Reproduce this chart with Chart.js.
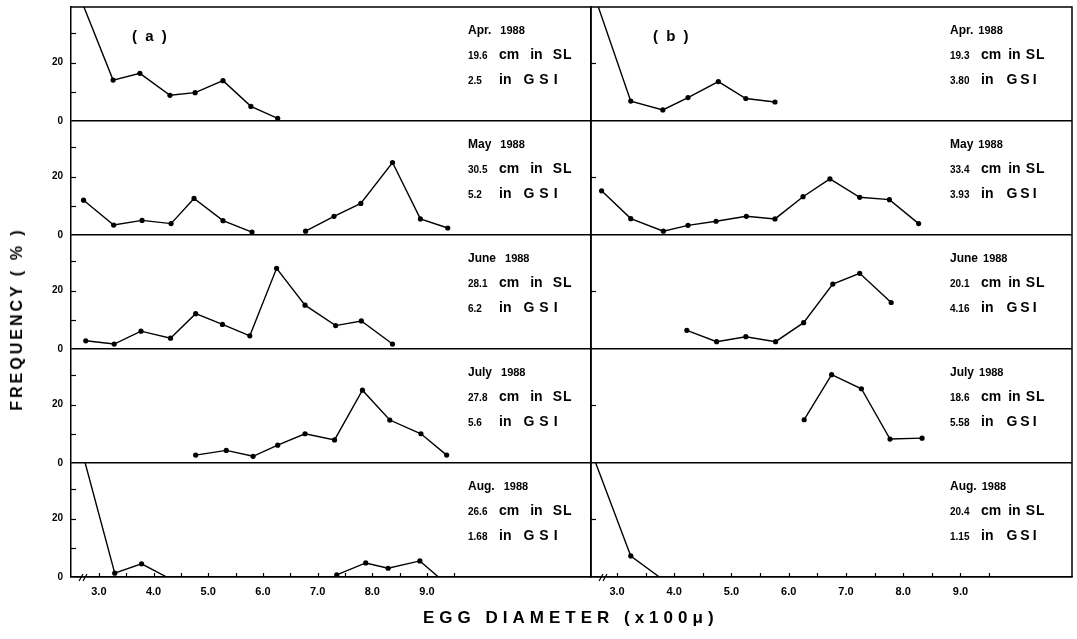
<!DOCTYPE html>
<html>
<head>
<meta charset="utf-8">
<script src="https://cdn.jsdelivr.net/npm/chart.js@4.4.0/dist/chart.umd.min.js"></script>
<style>
body{margin:0;background:#fff;width:1077px;height:639px;position:relative;overflow:hidden;font-family:"Liberation Sans",Arial,sans-serif;color:#000;}
canvas{position:absolute;left:0;top:0;}
.note{position:absolute;line-height:23px;white-space:nowrap;}
.note b{font-size:12px;}
.note .yr{font-size:11px;font-weight:bold;}
.note .num{display:inline-block;width:31px;font-size:10px;font-weight:bold;}
.note .w{font-size:14px;font-weight:bold;}
.lbl{position:absolute;font-weight:bold;white-space:nowrap;}
</style>
</head>
<body>
<canvas id="colA" width="1077" height="639"></canvas>
<canvas id="colB" width="1077" height="639"></canvas>
<div id="notes"></div>
<div class="lbl" style="left:132px;top:27px;font-size:15px;letter-spacing:2px">( a )</div>
<div class="lbl" style="left:653px;top:27px;font-size:15px;letter-spacing:2px">( b )</div>
<div class="lbl" style="font-size:16px;letter-spacing:3px;left:17px;top:319px;transform:translate(-50%,-50%) rotate(-90deg)">FREQUENCY ( % )</div>
<div class="lbl" style="left:423px;top:608px;font-size:17px;letter-spacing:5px">EGG DIAMETER (x100μ)</div>
<script>
// ---------------- eixos ----------------
const xTicks = [3,3.5,4,4.5,5,5.5,6,6.5,7,7.5,8,8.5,9,9.5];
const xLabels = [3,4,5,6,7,8,9];
const yTicksA = [0,10,20,30];
const yTicksB = [0,20];
const yLabels = [0,20];

// ---------------- (a) ----------------
const aprAx = [2.62,3.26,3.75,4.30,4.76,5.27,5.78,6.27];
const aprAy = [44,14.0,16.3,8.8,9.7,13.8,5.0,0.9];
const mayAx = [2.72,3.27,3.79,4.32,4.74,5.27,5.80,6.25,6.78,7.30,7.79,8.37,8.88,9.38];
const mayAy = [11.9,3.4,5.0,3.9,12.5,4.9,1.0,null,1.3,6.4,10.8,24.8,5.5,2.4];
const junAx = [2.76,3.28,3.77,4.31,4.77,5.26,5.76,6.25,6.77,7.33,7.80,8.37];
const junAy = [2.8,1.7,6.1,3.7,12.1,8.4,4.5,27.6,15.0,8.0,9.6,1.7];
const julAx = [4.77,5.33,5.82,6.27,6.77,7.31,7.82,8.32,8.89,9.36];
const julAy = [2.7,4.3,2.3,6.1,10.0,7.9,24.9,14.7,10.0,2.7];
const augAx = [2.62,3.29,3.78,4.24,5.80,7.35,7.88,8.29,8.87,9.21];
const augAy = [48,1.3,4.5,0,null,0.7,4.8,3.0,5.5,0];

// ---------------- (b) ----------------
const aprBx = [2.55,3.24,3.80,4.24,4.77,5.25,5.76];
const aprBy = [46,6.8,3.8,8.0,13.5,7.7,6.5];
const mayBx = [2.73,3.24,3.81,4.24,4.73,5.26,5.76,6.25,6.72,7.24,7.76,8.27];
const mayBy = [15.1,5.6,1.3,3.3,4.7,6.4,5.5,13.1,19.2,12.9,12.1,3.9];
const junBx = [4.22,4.74,5.25,5.77,6.26,6.77,7.24,7.79];
const junBy = [6.4,2.5,4.2,2.5,9.0,22.2,25.9,15.9];
const julBx = [6.27,6.75,7.27,7.77,8.33];
const julBy = [14.8,30.2,25.4,8.2,8.5];
const augBx = [2.55,3.24,3.74];
const augBy = [43,7.2,0];

// ---------------- textos ----------------
const months = ["Apr.","May","June","July","Aug."];
const slA = ["19.6","30.5","28.1","27.8","26.6"];
const gsiA = ["2.5","5.2","6.2","5.6","1.68"];
const slB = ["19.3","33.4","20.1","18.6","20.4"];
const gsiB = ["3.80","3.93","4.16","5.58","1.15"];

const rowIds = ["r0","r1","r2","r3","r4"];

Chart.defaults.font.family = '"Liberation Sans", Arial, sans-serif';
Chart.defaults.color = "#000";

const frame = {
  id:"frame",
  beforeDatasetDraw(chart,args){
    const m=args.meta, ctx=chart.ctx;
    ctx.save(); ctx.beginPath();
    ctx.rect(m.xScale.left, m.yScale.top, m.xScale.width, m.yScale.height+3);
    ctx.clip();
  },
  afterDatasetDraw(chart){ chart.ctx.restore(); },
  afterDraw(chart,args,o){
    const {ctx, chartArea:a, scales} = chart;
    ctx.save(); ctx.strokeStyle="#000"; ctx.lineWidth=1.5;
    ctx.beginPath(); ctx.moveTo(a.left,a.top); ctx.lineTo(a.right,a.top); ctx.lineTo(a.right,a.bottom); ctx.stroke();
    ctx.lineWidth=1.2;
    const xs=scales.x;
    xTicks.forEach(v=>{
      const p=Math.round(xs.getPixelForValue(v))+0.5;
      ctx.beginPath(); ctx.moveTo(p,a.bottom); ctx.lineTo(p,a.bottom-4); ctx.stroke();
    });
    rowIds.forEach(id=>{
      const s=scales[id];
      o.ticks.forEach(v=>{
        if(!v) return;
        const p=Math.round(s.getPixelForValue(v))+0.5;
        ctx.beginPath(); ctx.moveTo(a.left,p); ctx.lineTo(a.left+5,p); ctx.stroke();
      });
    });
    // quebra do eixo
    const bx=a.left+10;
    [0,4].forEach(d=>{ ctx.beginPath(); ctx.moveTo(bx+d-2,a.bottom+4); ctx.lineTo(bx+d+2,a.bottom-3); ctx.stroke(); });
    ctx.restore();
  }
};

function pts(xs,ys){ return xs.map((x,i)=>({x:x,y:ys[i]})); }

function makeColumn(id, series, o){
  const scales = {
    x:{type:"linear", position:"bottom", min:o.xMin, max:o.xMax,
       afterBuildTicks:s=>{ s.ticks=xTicks.map(v=>({value:v})); },
       afterFit:s=>{ s.height=25; s.paddingLeft=0; s.paddingRight=0; },
       grid:{display:false, drawTicks:false},
       border:{display:true, color:"#000", width:1.5},
       ticks:{autoSkip:false, maxRotation:0, padding:8, font:{size:11, weight:"bold"},
              callback:v=>xLabels.includes(v)?v.toFixed(1):""}}
  };
  // Aug..Apr, Apr fica em cima
  for(let i=4;i>=0;i--){
    scales[rowIds[i]] = {
      type:"linear", position:"left", stack:"rows", stackWeight:1, weight:5-i,
      min:0, max:39,
      afterBuildTicks:s=>{ s.ticks=o.yTicks.map(v=>({value:v})); },
      afterFit:s=>{ s.width=o.yWidth; s.paddingTop=0; s.paddingBottom=0; },
      grid:{drawTicks:false, lineWidth:1.5, color:c=>c.tick && c.tick.value===0 ? "#000" : "rgba(0,0,0,0)"},
      border:{display:true, color:"#000", width:1.5},
      ticks:{display:o.showY, padding:8, font:{size:10, weight:"bold"},
             callback:v=>yLabels.includes(v)?String(v):""}
    };
  }
  return new Chart(document.getElementById(id),{
    type:"line",
    data:{datasets:series.map((s,i)=>({
      data:pts(s[0],s[1]), xAxisID:"x", yAxisID:rowIds[i],
      borderColor:"#000", borderWidth:1.4, tension:0, spanGaps:false,
      pointRadius:c=>c.raw && c.raw.y===0 ? 0 : 2.6,
      pointBackgroundColor:"#000", pointBorderWidth:0
    }))},
    options:{
      responsive:false, animation:false,
      layout:{padding:o.padding, autoPadding:false},
      plugins:{legend:{display:false}, tooltip:{enabled:false}, frame:{ticks:o.yTicks}},
      scales:scales
    },
    plugins:[frame]
  });
}

makeColumn("colA",
  [[aprAx,aprAy],[mayAx,mayAy],[junAx,junAy],[julAx,julAy],[augAx,augAy]],
  {xMin:2.49, xMax:12.0, yTicks:yTicksA, yWidth:40, showY:true,
   padding:{left:31, right:486, top:7, bottom:37}});

makeColumn("colB",
  [[aprBx,aprBy],[mayBx,mayBy],[junBx,junBy],[julBx,julBy],[augBx,augBy]],
  {xMin:2.545, xMax:10.95, yTicks:yTicksB, yWidth:0, showY:false,
   padding:{left:591, right:5, top:7, bottom:37}});

// ---------------- anotações ----------------
const notes=document.getElementById("notes");
function addNote(left, i, sl, gsi, g){
  const d=document.createElement("div");
  d.className="note";
  d.style.left=left+"px";
  d.style.top=(7+114*i+10)+"px";
  d.innerHTML=`<div><b>${months[i]}</b><span class="yr" style="margin-left:${g.yr}px">1988</span></div>`+
    `<div><span class="num">${sl}</span><span class="w">cm</span><span class="w" style="margin-left:${g.in}px">in</span><span class="w" style="margin-left:${g.sl}px;letter-spacing:1px">SL</span></div>`+
    `<div><span class="num">${gsi}</span><span class="w">in</span><span class="w" style="margin-left:${g.gsi}px;letter-spacing:${g.ls}px">GSI</span></div>`;
  notes.appendChild(d);
}
for(let i=0;i<5;i++){
  addNote(468,i,slA[i],gsiA[i],{yr:9,in:11,sl:10,gsi:12,ls:5});
  addNote(950,i,slB[i],gsiB[i],{yr:5,in:7,sl:5,gsi:13,ls:3});
}
</script>
</body>
</html>
